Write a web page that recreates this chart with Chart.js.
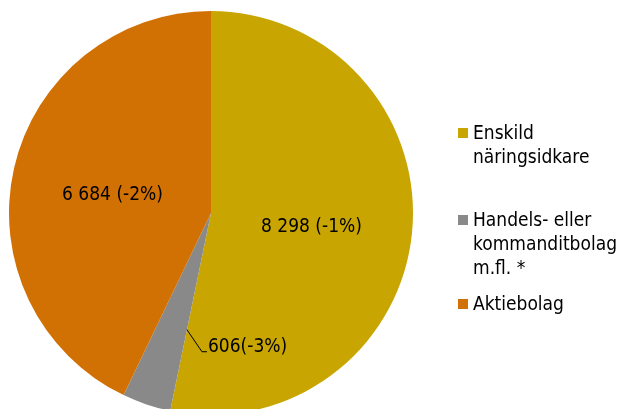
<!DOCTYPE html>
<html>
<head>
<meta charset="utf-8">
<script src="https://cdn.jsdelivr.net/npm/chart.js@4"></script>
<style>
  html, body { margin: 0; padding: 0; background: #fff; overflow: hidden; }
  #wrap { width: 622px; height: 420px; position: relative; }
</style>
</head>
<body>
<div id="wrap"><canvas id="myChart"></canvas></div>
<script>
const labels = [
    ['Enskild', 'näringsidkare'],
    ['Handels- eller', 'kommanditbolag', 'm.fl. *'],
    ['Aktiebolag']
];
const values = [8298, 606, 6684];
const changes = ['-1%', '-3%', '-2%'];
const colors = ['#C8A500', '#898989', '#D17104'];

const FONT = '19px "DejaVu Sans Condensed", "DejaVu Sans", sans-serif';

function fmt(n) {
    return String(n).replace(/\B(?=(\d{3})+(?!\d))/g, ' ');
}

// value labels on the slices
const sliceLabels = {
    id: 'sliceLabels',
    afterDatasetsDraw(chart) {
        const ctx = chart.ctx;
        const arcs = chart.getDatasetMeta(0).data;
        ctx.save();
        ctx.font = FONT;
        ctx.fillStyle = '#000';
        ctx.textBaseline = 'middle';
        arcs.forEach(function (arc, i) {
            if (i === 1) {
                // small slice: label outside with leader line
                const a = arc.startAngle;
                const r = arc.outerRadius * 0.59;
                const sx = arc.x + Math.cos(a) * r;
                const sy = arc.y + Math.sin(a) * r;
                ctx.strokeStyle = '#000';
                ctx.lineWidth = 1;
                ctx.beginPath();
                ctx.moveTo(sx, sy);
                ctx.lineTo(sx + 15, sy + 22);
                ctx.lineTo(sx + 20, sy + 22);
                ctx.stroke();
                ctx.textAlign = 'left';
                ctx.fillText(fmt(values[i]) + '(' + changes[i] + ')', sx + 21, sy + 17);
            } else {
                const p = arc.tooltipPosition();
                ctx.textAlign = 'center';
                ctx.fillText(fmt(values[i]) + ' (' + changes[i] + ')', p.x, p.y + 4);
            }
        });
        ctx.restore();
    }
};

// legend on the right
const sideLegend = {
    id: 'sideLegend',
    afterDraw(chart) {
        const ctx = chart.ctx;
        const tops = [139, 226, 310];
        ctx.save();
        ctx.font = FONT;
        ctx.textBaseline = 'alphabetic';
        ctx.textAlign = 'left';
        labels.forEach(function (lines, i) {
            ctx.fillStyle = colors[i];
            ctx.fillRect(458, tops[i] - 11, 10, 10);
            ctx.fillStyle = '#000';
            lines.forEach(function (t, j) {
                ctx.fillText(t, 473, tops[i] + j * 24);
            });
        });
        ctx.restore();
    }
};

const ctx = document.getElementById('myChart').getContext('2d');

const myChart = new Chart(ctx, {
    type: 'pie',
    data: {
        labels: labels.map(l => l.join(' ')),
        datasets: [{
            data: values,
            backgroundColor: colors,
            borderWidth: 0
        }]
    },
    options: {
        responsive: true,
        maintainAspectRatio: false,
        animation: false,
        layout: {
            padding: { left: 9, top: 11, right: 209, bottom: 5 }
        },
        plugins: {
            legend: { display: false },
            tooltip: { enabled: false }
        }
    },
    plugins: [sliceLabels, sideLegend]
});
</script>
</body>
</html>
